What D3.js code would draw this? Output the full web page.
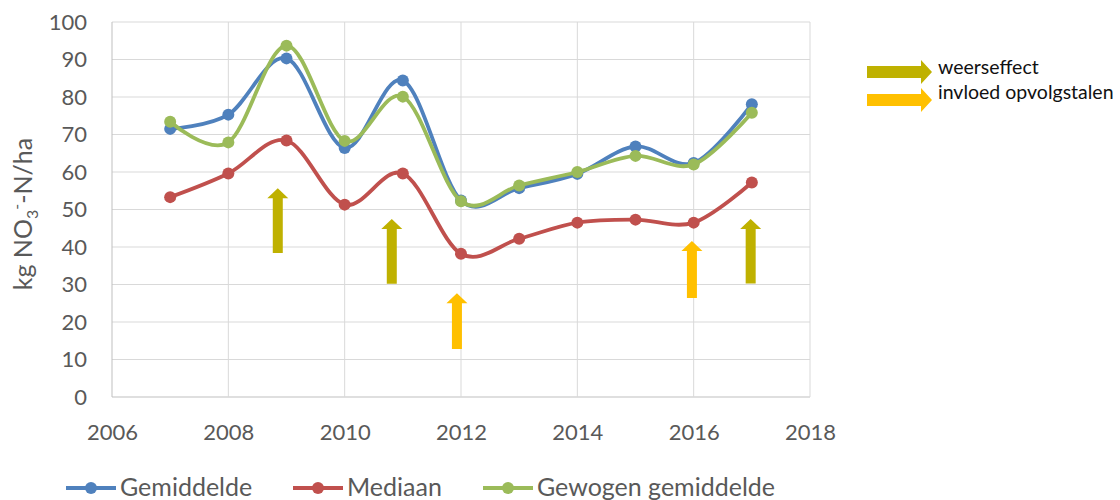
<html>
<head>
<script src="https://d3js.org/d3.v7.min.js"></script>
<style>
  body { margin: 0; background: #fff; }
  text { font-family: Lato, "Open Sans", sans-serif; fill: #595959; }
</style>
</head>
<body>
<svg id="chart" width="1120" height="500"></svg>
<script>
// values
const years = [2007, 2008, 2009, 2010, 2011, 2012, 2013, 2014, 2015, 2016, 2017];
const gemiddelde = [71.5, 75.3, 90.3, 66.4, 84.4, 52.4, 55.7, 59.5, 66.8, 62.4, 78.1];
const mediaan = [53.3, 59.6, 68.4, 51.3, 59.6, 38.2, 42.2, 46.5, 47.3, 46.5, 57.2];
const gewogen = [73.4, 67.9, 93.7, 68.3, 80.1, 52.2, 56.4, 60.0, 64.3, 62.0, 75.8];

const xTicks = [2006, 2008, 2010, 2012, 2014, 2016, 2018];
const yTicks = [0, 10, 20, 30, 40, 50, 60, 70, 80, 90, 100];

// annotation arrows: year position, bottom value, top value, kind
const arrowYears = [2008.85, 2010.81, 2016.98, 2011.93, 2015.97];
const arrowFrom = [38.4, 30.2, 30.3, 12.8, 26.4];
const arrowTo = [55.7, 47.5, 47.5, 27.7, 41.6];
const arrowKind = ["weer", "weer", "weer", "invloed", "invloed"];

const series = [
  {name: "Gemiddelde", values: gemiddelde, color: "#4f81bd"},
  {name: "Mediaan", values: mediaan, color: "#c0504d"},
  {name: "Gewogen gemiddelde", values: gewogen, color: "#9bbb59"}
];
const arrowColors = {weer: "#bfb100", invloed: "#ffc000"};
const arrowLabels = [["weer", "weerseffect"], ["invloed", "invloed opvolgstalen"]];

const svg = d3.select("#chart");
const plotL = 112, plotR = 810, plotT = 22, plotB = 397;

const x = d3.scaleLinear().domain([2006, 2018]).range([plotL, plotR]);
const y = d3.scaleLinear().domain([0, 100]).range([plotB, plotT]);

// grid
svg.append("g").selectAll("line").data(yTicks).join("line")
  .attr("x1", plotL).attr("x2", plotR)
  .attr("y1", d => y(d)).attr("y2", d => y(d))
  .attr("stroke", d => d === 0 ? "#bfbfbf" : "#d9d9d9").attr("stroke-width", 1);
svg.append("g").selectAll("line").data(xTicks).join("line")
  .attr("x1", d => x(d)).attr("x2", d => x(d))
  .attr("y1", plotT).attr("y2", plotB)
  .attr("stroke", d => d === 2006 ? "#bfbfbf" : "#d9d9d9").attr("stroke-width", 1);

// axes labels
const yAxis = svg.append("g").attr("transform", `translate(${plotL},0)`)
  .call(d3.axisLeft(y).tickValues(yTicks).tickSize(0).tickPadding(25));
yAxis.select(".domain").remove();
yAxis.selectAll("text").style("font-size", "22px").attr("fill", "#595959")
  .style("font-family", "Lato, sans-serif");

const xAxis = svg.append("g").attr("transform", `translate(0,${plotB})`)
  .call(d3.axisBottom(x).tickValues(xTicks).tickFormat(d3.format("d")).tickSize(0).tickPadding(27));
xAxis.select(".domain").remove();
xAxis.selectAll("text").style("font-size", "22px").attr("fill", "#595959")
  .style("font-family", "Lato, sans-serif");

// y title
const yt = svg.append("text")
  .attr("transform", "translate(32,214) rotate(-90)")
  .attr("text-anchor", "middle")
  .style("font-size", "25px");
yt.append("tspan").text("kg NO");
yt.append("tspan").text("3").attr("dy", 6).style("font-size", "16px");
yt.append("tspan").text("-").attr("dy", -16).style("font-size", "16px");
yt.append("tspan").text("-N/ha").attr("dy", 10);

// arrows
function arrowPath(cx, yb, yt2, shaftW, headW, headH) {
  return `M${cx - shaftW / 2},${yb} L${cx - shaftW / 2},${yt2 + headH} L${cx - headW / 2},${yt2 + headH}` +
    ` L${cx},${yt2} L${cx + headW / 2},${yt2 + headH} L${cx + shaftW / 2},${yt2 + headH} L${cx + shaftW / 2},${yb} Z`;
}
svg.append("g").selectAll("path").data(arrowYears).join("path")
  .attr("d", (d, i) => arrowPath(x(d), y(arrowFrom[i]), y(arrowTo[i]), 10, 21, 10))
  .attr("fill", (d, i) => arrowColors[arrowKind[i]]);

// lines
const line = d3.line().x((d, i) => x(years[i])).y(d => y(d)).curve(d3.curveCardinal.tension(0));
series.forEach(s => {
  const g = svg.append("g");
  g.append("path").datum(s.values).attr("d", line)
    .attr("fill", "none").attr("stroke", s.color).attr("stroke-width", 3.8)
    .attr("stroke-linecap", "round");
  g.selectAll("circle").data(s.values).join("circle")
    .attr("cx", (d, i) => x(years[i])).attr("cy", d => y(d)).attr("r", 6)
    .attr("fill", s.color);
});

// arrow legend (right)
const al = svg.append("g");
arrowLabels.forEach(([k, label], i) => {
  const yy = 72 + i * 28;
  const x0 = 867, x1 = 932;
  al.append("path")
    .attr("d", `M${x0},${yy - 6} L${x1 - 11},${yy - 6} L${x1 - 11},${yy - 12} L${x1},${yy} L${x1 - 11},${yy + 12} L${x1 - 11},${yy + 6} L${x0},${yy + 6} Z`)
    .attr("fill", arrowColors[k]);
  al.append("text").attr("x", 938).attr("y", yy + (i === 0 ? 2 : -1))
    .style("font-size", "19.5px").style("fill", "#111").text(label);
});

// series legend (bottom)
const legX = [66, 293, 483];
const lg = svg.append("g");
series.forEach((s, i) => {
  const lx = legX[i], ly = 488;
  lg.append("line").attr("x1", lx).attr("x2", lx + 50).attr("y1", ly).attr("y2", ly)
    .attr("stroke", s.color).attr("stroke-width", 3.8);
  lg.append("circle").attr("cx", lx + 25).attr("cy", ly).attr("r", 6).attr("fill", s.color);
  lg.append("text").attr("x", lx + 54).attr("y", ly + 8)
    .style("font-size", "25px").text(s.name);
});
</script>
</body>
</html>
